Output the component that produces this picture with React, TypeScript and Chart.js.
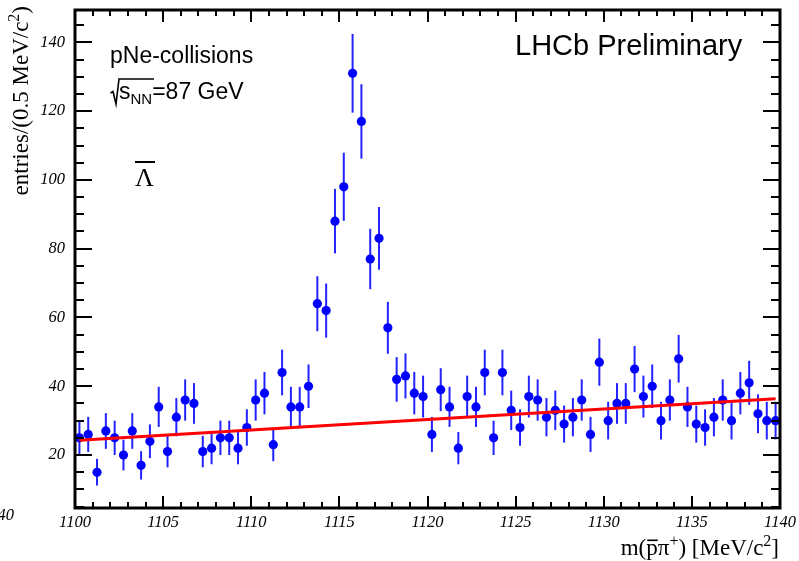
import React, { useEffect, useRef } from "react";
import { Chart, registerables } from "chart.js";

Chart.register(...registerables);

// ---- data ----
const BIN_CENTERS = [
  1100.25, 1100.75, 1101.25, 1101.75, 1102.25, 1102.75, 1103.25, 1103.75, 1104.25, 1104.75,
  1105.25, 1105.75, 1106.25, 1106.75, 1107.25, 1107.75, 1108.25, 1108.75, 1109.25, 1109.75,
  1110.25, 1110.75, 1111.25, 1111.75, 1112.25, 1112.75, 1113.25, 1113.75, 1114.25, 1114.75,
  1115.25, 1115.75, 1116.25, 1116.75, 1117.25, 1117.75, 1118.25, 1118.75, 1119.25, 1119.75,
  1120.25, 1120.75, 1121.25, 1121.75, 1122.25, 1122.75, 1123.25, 1123.75, 1124.25, 1124.75,
  1125.25, 1125.75, 1126.25, 1126.75, 1127.25, 1127.75, 1128.25, 1128.75, 1129.25, 1129.75,
  1130.25, 1130.75, 1131.25, 1131.75, 1132.25, 1132.75, 1133.25, 1133.75, 1134.25, 1134.75,
  1135.25, 1135.75, 1136.25, 1136.75, 1137.25, 1137.75, 1138.25, 1138.75, 1139.25, 1139.75,
];

const COUNTS = [
  25, 26, 15, 27, 25, 20, 27, 17, 24, 34,
  21, 31, 36, 35, 21, 22, 25, 25, 22, 28,
  36, 38, 23, 44, 34, 34, 40, 64, 62, 88,
  98, 131, 117, 77, 83, 57, 42, 43, 38, 37,
  26, 39, 34, 22, 37, 34, 44, 25, 44, 33,
  28, 37, 36, 31, 33, 29, 31, 36, 26, 47,
  30, 35, 35, 45, 37, 40, 30, 36, 48, 34,
  29, 28, 31, 36, 30, 38, 41, 32, 30, 30,
];

const FIT_X = [1100.25, 1139.75];
const FIT_Y = [24.3, 36.4];

const X_MIN = 1100;
const X_MAX = 1140;
const Y_MIN = 4.6;
const Y_MAX = 149.4;

const X_TICK_LABELS = [1100, 1105, 1110, 1115, 1120, 1125, 1130, 1135, 1140];
const Y_TICK_LABELS = [20, 40, 60, 80, 100, 120, 140];
const X_MINOR_STEP = 1;
const Y_MINOR_STEP = 5;

// ---- styles ----
const SERIF = '"Liberation Serif", "DejaVu Serif", serif';
const SANS = '"Liberation Sans", Arial, sans-serif';
const POINT_COLOR = "#0000ff";
const ERR_COLOR = "#2222ff";
const FIT_COLOR = "#ff0000";

type Seg = { t: string; font: string; dy?: number; bar?: number };

function drawRich(ctx: CanvasRenderingContext2D, segs: Seg[], x: number, y: number, align: "left" | "right") {
  let total = 0;
  for (const s of segs) {
    ctx.font = s.font;
    total += ctx.measureText(s.t).width;
  }
  let cx = align === "left" ? x : x - total;
  ctx.textAlign = "left";
  ctx.textBaseline = "alphabetic";
  for (const s of segs) {
    ctx.font = s.font;
    const w = ctx.measureText(s.t).width;
    ctx.fillText(s.t, cx, y + (s.dy || 0));
    if (s.bar !== undefined) {
      ctx.fillRect(cx + 1, y - s.bar, w - 1, 1.6);
    }
    cx += w;
  }
}

const overlay = {
  id: "overlay",
  beforeDatasetsDraw(chart: any) {
    const { ctx, scales } = chart;
    const x = scales.x;
    const y = scales.y;
    ctx.save();
    ctx.strokeStyle = ERR_COLOR;
    ctx.lineWidth = 2;
    BIN_CENTERS.forEach((c, i) => {
      const v = COUNTS[i];
      const e = Math.sqrt(v);
      const px = x.getPixelForValue(c);
      ctx.beginPath();
      ctx.moveTo(px, y.getPixelForValue(v - e));
      ctx.lineTo(px, y.getPixelForValue(v + e));
      ctx.stroke();
    });
    ctx.restore();
  },
  afterDraw(chart: any) {
    const { ctx, chartArea, scales } = chart;
    const x = scales.x;
    const y = scales.y;
    const { left, right, top, bottom } = chartArea;
    ctx.save();
    ctx.fillStyle = "#000";
    ctx.strokeStyle = "#000";

    // ticks
    ctx.lineWidth = 2;
    for (let v = X_MIN; v <= X_MAX + 1e-9; v += X_MINOR_STEP) {
      const major = X_TICK_LABELS.includes(v);
      const len = major ? 12 : 6;
      const px = Math.round(x.getPixelForValue(v));
      ctx.beginPath();
      ctx.moveTo(px, bottom);
      ctx.lineTo(px, bottom - len);
      ctx.moveTo(px, top);
      ctx.lineTo(px, top + len);
      ctx.stroke();
    }
    for (let v = 5; v <= Y_MAX; v += Y_MINOR_STEP) {
      const major = Y_TICK_LABELS.includes(v);
      const len = major ? 17 : 9;
      const py = Math.round(y.getPixelForValue(v));
      ctx.beginPath();
      ctx.moveTo(left, py);
      ctx.lineTo(left + len, py);
      ctx.moveTo(right, py);
      ctx.lineTo(right - len, py);
      ctx.stroke();
    }

    // frame
    ctx.lineWidth = 3;
    ctx.strokeRect(left, top, right - left, bottom - top);

    // tick labels
    ctx.font = `italic 16.5px ${SERIF}`;
    ctx.textBaseline = "middle";
    ctx.textAlign = "right";
    for (const v of Y_TICK_LABELS) {
      ctx.fillText(String(v), left - 10, y.getPixelForValue(v));
    }
    ctx.textAlign = "center";
    for (const v of X_TICK_LABELS) {
      ctx.fillText(String(v), x.getPixelForValue(v), bottom + 15);
    }
    ctx.textAlign = "right";
    ctx.fillText("40", 14, 516);

    // x title
    const T = `23px ${SERIF}`;
    const S = `16px ${SERIF}`;
    drawRich(
      ctx,
      [
        { t: "m(", font: T },
        { t: "p", font: T, bar: 15.5 },
        { t: "\u03c0", font: T },
        { t: "+", font: S, dy: -9 },
        { t: ") [MeV/c", font: T },
        { t: "2", font: S, dy: -9 },
        { t: "]", font: T },
      ],
      779,
      555,
      "right"
    );

    // y title
    ctx.save();
    ctx.translate(27.5, 0);
    ctx.rotate(-Math.PI / 2);
    drawRich(
      ctx,
      [
        { t: "entries/(0.5 MeV/c", font: T },
        { t: "2", font: S, dy: -9 },
        { t: ")", font: T },
      ],
      -6,
      0,
      "right"
    );
    ctx.restore();

    // annotations
    const A = `23px ${SANS}`;
    ctx.textAlign = "left";
    ctx.textBaseline = "alphabetic";
    ctx.font = A;
    ctx.fillText("pNe-collisions", 110, 63);

    // sqrt(s_NN)
    ctx.lineWidth = 1.6;
    ctx.beginPath();
    ctx.moveTo(110.5, 93);
    ctx.lineTo(113, 91.5);
    ctx.lineTo(116, 104);
    ctx.lineTo(119, 79);
    ctx.lineTo(154, 79);
    ctx.stroke();
    drawRich(
      ctx,
      [
        { t: "s", font: A },
        { t: "NN", font: `15px ${SANS}`, dy: 5 },
        { t: "=87 GeV", font: A },
      ],
      119,
      99,
      "left"
    );

    // anti-Lambda
    ctx.font = `26px ${SERIF}`;
    ctx.fillText("\u039b", 135, 186);
    ctx.fillRect(135, 161, 20, 2);

    ctx.font = `29px ${SANS}`;
    ctx.fillText("LHCb Preliminary", 515, 55);

    ctx.restore();
  },
};

export default function App() {
  const ref = useRef<HTMLCanvasElement | null>(null);

  useEffect(() => {
    if (!ref.current) return;
    const chart = new Chart(ref.current, {
      type: "scatter",
      data: {
        datasets: [
          {
            type: "line",
            data: FIT_X.map((v, i) => ({ x: v, y: FIT_Y[i] })),
            borderColor: FIT_COLOR,
            borderWidth: 3,
            pointRadius: 0,
            fill: false,
            order: 0,
          } as any,
          {
            type: "scatter",
            data: BIN_CENTERS.map((c, i) => ({ x: c, y: COUNTS[i] })),
            backgroundColor: POINT_COLOR,
            borderWidth: 0,
            pointRadius: 4.6,
            order: 1,
          },
        ],
      },
      options: {
        animation: false,
        responsive: false,
        devicePixelRatio: 1,
        layout: { padding: { left: 75, right: 19, top: 10, bottom: 53 } },
        plugins: { legend: { display: false }, tooltip: { enabled: false } },
        events: [],
        scales: {
          x: { type: "linear", min: X_MIN, max: X_MAX, display: false },
          y: { type: "linear", min: Y_MIN, max: Y_MAX, display: false },
        },
      },
      plugins: [overlay],
    });
    return () => chart.destroy();
  }, []);

  return (
    <div style={{ position: "fixed", left: 0, top: 0, width: 799, height: 561, background: "#fff" }}>
      <canvas ref={ref} width={799} height={561} style={{ display: "block" }} />
    </div>
  );
}
